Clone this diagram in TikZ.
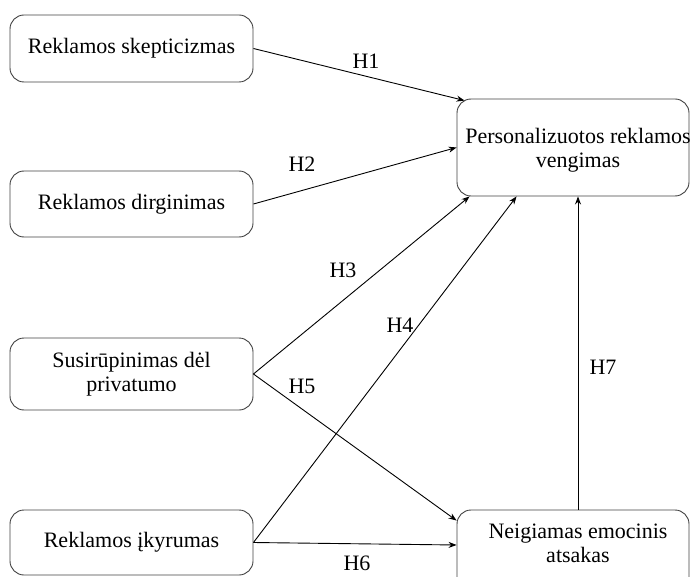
\documentclass[tikz,border=0pt]{standalone}
\usepackage{fontspec}
\setmainfont{Liberation Serif}
\usetikzlibrary{calc,arrows.meta}
\begin{document}
\begin{tikzpicture}[x=1pt,y=-1pt,
  box/.style={draw=black!75, line width=0.9pt, rounded corners=14pt, inner sep=0pt,
    font=\fontsize{22}{24}\selectfont, align=center},
  leftbox/.style={box, minimum width=243pt},
  rightbox/.style={box, minimum width=232pt, minimum height=97pt},
  lbl/.style={font=\fontsize{22}{24}\selectfont, align=center, inner sep=0pt},
  link/.style={draw=black, line width=0.9pt, -{Stealth[length=8pt,width=6pt]}},
]
\useasboundingbox (0,0) rectangle (690,577);
\clip (0,0) rectangle (690,577);

% factor boxes on the left
\node[leftbox, minimum height=67pt] (b1) at (131.5,48.5) {Reklamos skepticizmas};
\node[leftbox, minimum height=66pt] (b2) at (131.5,204) {Reklamos dirginimas};
\node[leftbox, minimum height=72pt] (b3) at (131.5,374) {Susirūpinimas dėl\\privatumo};
\node[leftbox, minimum height=65pt] (b4) at (131.5,542.5) {Reklamos įkyrumas};

% outcome boxes on the right
\node[rightbox] (pv) at (573,147.5) {};
\node[lbl] (pvt) at (578,150) {Personalizuotos reklamos\\vengimas};
\node[rightbox] (ne) at (573,558.5) {};
\node[lbl] (net) at (578,543.5) {Neigiamas emocinis\\atsakas};

% arrow end points on the outcome boxes
\coordinate (pvH1) at ($(pv.north west)+(8,2)$);
\coordinate (pvH3) at ($(pv.south west)+(13,0)$);
\coordinate (pvH4) at ($(pv.south west)+(60,0)$);
\coordinate (pvH7) at ($(pv.south)+(5,0)$);
\coordinate (neH7) at ($(ne.north)+(5,0)$);
\coordinate (neH5) at ($(ne.north west)+(0,11)$);
\coordinate (neH6) at ($(ne.west)+(0,-13.5)$);

% hypotheses
\draw[link] (b1.east) -- (pvH1);
\draw[link] (b2.east) -- (pv.west);
\draw[link] (b3.east) -- (pvH3);
\draw[link] (b4.east) -- (pvH4);
\draw[link] (b3.east) -- (neH5);
\draw[link] (b4.east) -- (neH6);
\draw[link] (neH7) -- (pvH7);

\node[lbl] (h1) at (366,61) {H1};
\node[lbl] (h2) at (302,164) {H2};
\node[lbl] (h3) at (343,270) {H3};
\node[lbl] (h4) at (400,325) {H4};
\node[lbl] (h5) at (302,386) {H5};
\node[lbl] (h6) at (357,563) {H6};
\node[lbl] (h7) at (603,367) {H7};
\end{tikzpicture}
\end{document}
